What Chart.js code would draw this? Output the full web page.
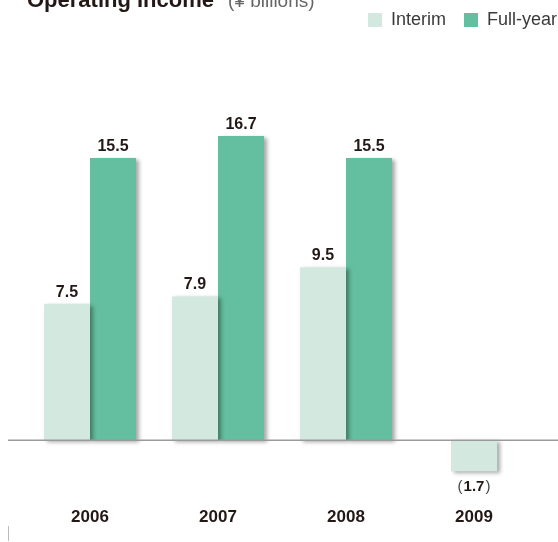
<!DOCTYPE html>
<html>
<head>
<meta charset="utf-8">
<script src="https://cdn.jsdelivr.net/npm/chart.js@4/dist/chart.umd.min.js"></script>
<style>
  html, body { margin: 0; padding: 0; background: #fff; }
  #wrap { width: 558px; height: 542px; position: relative; }
</style>
</head>
<body>
<div id="wrap"><canvas id="grafico"></canvas></div>
<script>
// Operating income, interim vs full-year (¥ billions)
const anos = ['2006', '2007', '2008', '2009'];
const interim = [7.5, 7.9, 9.5, -1.7];
const fullYear = [15.5, 16.7, 15.5, null];

// anos sem valor anual: barra interim centrada sozinha
const interimAgrupado = interim.map((v, i) => fullYear[i] === null ? null : v);
const interimSozinho = interim.map((v, i) => fullYear[i] === null ? v : null);

const cores = {
    interim: '#d3e9e0',
    full: '#63bfa0',
    texto: '#231815',
    linha: '#9a9a9a'
};

const fonte = '"Liberation Sans", Arial, sans-serif';

// sombra leve nas barras
const sombraPlugin = {
    id: 'sombra',
    beforeDatasetDraw(chart) {
        const ctx = chart.ctx;
        ctx.save();
        ctx.shadowColor = 'rgba(0,0,0,0.35)';
        ctx.shadowBlur = 4;
        ctx.shadowOffsetX = 3;
        ctx.shadowOffsetY = 2;
    },
    afterDatasetDraw(chart) {
        chart.ctx.restore();
    }
};

// linha do zero, título e rótulos de valor
const extrasPlugin = {
    id: 'extras',
    afterDatasetsDraw(chart) {
        const ctx = chart.ctx;
        const y0 = chart.scales.y.getPixelForValue(0);

        ctx.save();
        ctx.strokeStyle = cores.linha;
        ctx.lineWidth = 1.5;
        ctx.beginPath();
        ctx.moveTo(8, y0);
        ctx.lineTo(chart.width, y0);
        ctx.stroke();

        ctx.lineWidth = 1;
        ctx.strokeStyle = '#bbb';
        ctx.beginPath();
        ctx.moveTo(8.5, 526);
        ctx.lineTo(8.5, 541);
        ctx.stroke();

        // título (cortado no topo, como no original)
        ctx.textBaseline = 'alphabetic';
        ctx.textAlign = 'left';
        ctx.fillStyle = cores.texto;
        ctx.font = 'bold 22px ' + fonte;
        ctx.fillText('Operating Income', 27, 7);
        ctx.fillStyle = '#666';
        ctx.font = '19px ' + fonte;
        ctx.fillText('(¥ billions)', 228, 7);

        // valores
        chart.data.datasets.forEach((ds, i) => {
            const meta = chart.getDatasetMeta(i);
            meta.data.forEach((bar, j) => {
                const v = ds.data[j];
                if (v === null || v === undefined) return;
                ctx.fillStyle = cores.texto;
                if (v >= 0) {
                    ctx.textAlign = 'center';
                    ctx.textBaseline = 'alphabetic';
                    ctx.font = 'bold 16px ' + fonte;
                    ctx.fillText(v.toFixed(1), bar.x, bar.y - 7);
                } else {
                    const num = Math.abs(v).toFixed(1);
                    ctx.textBaseline = 'middle';
                    ctx.font = 'bold 15px ' + fonte;
                    const wNum = ctx.measureText(num).width;
                    ctx.font = '15px ' + fonte;
                    const wPar = ctx.measureText('(').width;
                    const gap = 1;
                    const yTxt = bar.y + 16;
                    const x0 = bar.x - (wNum + 2 * wPar + 2 * gap) / 2;
                    ctx.textAlign = 'left';
                    ctx.fillStyle = '#444';
                    ctx.fillText('(', x0, yTxt);
                    ctx.fillText(')', x0 + wPar + 2 * gap + wNum, yTxt);
                    ctx.fillStyle = cores.texto;
                    ctx.font = 'bold 15px ' + fonte;
                    ctx.fillText(num, x0 + wPar + gap, yTxt);
                }
            });
        });
        ctx.restore();
    }
};

const config = {
    type: 'bar',
    data: {
        labels: anos,
        datasets: [{
            label: 'Interim',
            data: interimAgrupado,
            backgroundColor: cores.interim,
            borderWidth: 0
        }, {
            label: 'Full-year',
            data: fullYear,
            backgroundColor: cores.full,
            borderWidth: 0
        }, {
            label: 'Interim (sozinho)',
            data: interimSozinho,
            grouped: false,
            backgroundColor: cores.interim,
            borderWidth: 0,
            categoryPercentage: 0.36
        }]
    },
    options: {
        responsive: true,
        maintainAspectRatio: false,
        animation: false,
        categoryPercentage: 0.72,
        barPercentage: 1.0,
        layout: {
            padding: { left: 26, right: -17, top: -7, bottom: 9 }
        },
        plugins: {
            title: { display: false },
            tooltip: { enabled: false },
            legend: {
                position: 'top',
                align: 'end',
                labels: {
                    boxWidth: 14,
                    boxHeight: 14,
                    padding: 18,
                    color: '#3a3a3a',
                    font: { family: fonte, size: 18 },
                    filter: item => item.datasetIndex < 2
                }
            }
        },
        scales: {
            x: {
                grid: { display: false, drawTicks: false },
                border: { display: false },
                ticks: {
                    color: cores.texto,
                    padding: 5,
                    font: { family: fonte, size: 17, weight: 'bold' }
                }
            },
            y: {
                position: 'right',
                min: -3.42,
                max: 22.03,
                grid: { display: false, drawTicks: false },
                border: { display: false },
                ticks: { display: false },
                afterFit(scale) { scale.width = 37; }
            }
        }
    },
    plugins: [sombraPlugin, extrasPlugin]
};

new Chart(document.getElementById('grafico').getContext('2d'), config);
</script>
</body>
</html>
